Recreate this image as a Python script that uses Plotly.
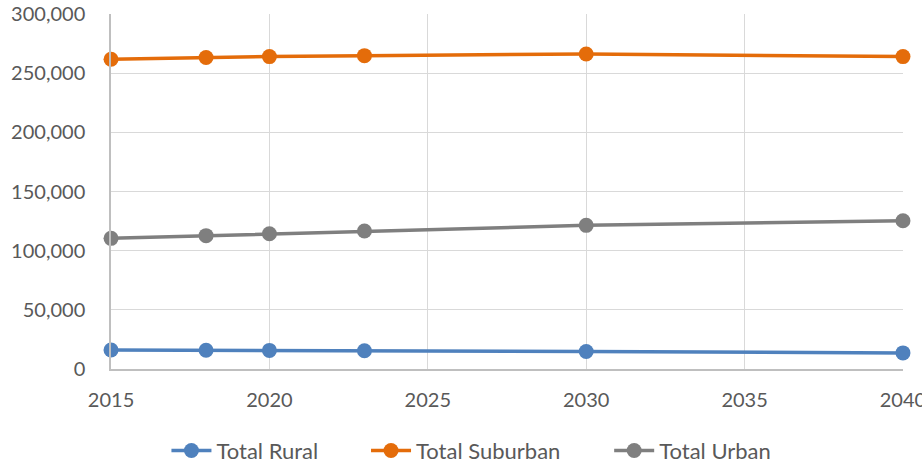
import plotly.graph_objects as go

years = [2015, 2018, 2020, 2023, 2030, 2040]
rural = [16100, 15900, 15700, 15400, 14800, 13600]
suburban = [261700, 263300, 264000, 264800, 266200, 264000]
urban = [110400, 112700, 114300, 116600, 121400, 125300]

series = [
    ("Total Rural", rural, "#4F81BD", "legend"),
    ("Total Suburban", suburban, "#E46C0A", "legend2"),
    ("Total Urban", urban, "#7F7F7F", "legend3"),
]

fig = go.Figure()
for name, vals, col, lg in series:
    fig.add_trace(go.Scatter(
        x=years, y=vals, name=name, mode="lines+markers",
        line=dict(color=col, width=3.5),
        marker=dict(color=col, size=15),
        cliponaxis=False, legend=lg,
    ))

leg_common = dict(orientation="h", y=-0.23, yanchor="middle", xanchor="left",
                  font=dict(size=22, color="#595959"), itemwidth=40)

fig.update_layout(
    width=922, height=465,
    margin=dict(l=111, r=19, t=14, b=96, autoexpand=False),
    paper_bgcolor="white", plot_bgcolor="white",
    font=dict(family="Lato, Calibri, sans-serif", size=20, color="#595959"),
    showlegend=True,
    legend=dict(x=0.07, **leg_common),
    legend2=dict(x=0.322, **leg_common),
    legend3=dict(x=0.629, **leg_common),
)
fig.update_xaxes(
    range=[2014.999, 2040.001], tickvals=[2015, 2020, 2025, 2030, 2035, 2040],
    ticklabeloverflow="allow",
    showgrid=True, gridcolor="#D9D9D9", gridwidth=1,
    showline=True, linecolor="#BFBFBF", linewidth=1.5,
    zeroline=False, ticks="outside", ticklen=12, tickcolor="rgba(0,0,0,0)",
)
fig.update_yaxes(
    range=[0, 300000], tickvals=[0, 50000, 100000, 150000, 200000, 250000, 300000],
    tickformat=",d",
    showgrid=True, gridcolor="#D9D9D9", gridwidth=1,
    showline=True, linecolor="#BFBFBF", linewidth=1.5,
    zeroline=False, ticks="outside", ticklen=20, tickcolor="rgba(0,0,0,0)",
)
fig.write_html("out.html")
